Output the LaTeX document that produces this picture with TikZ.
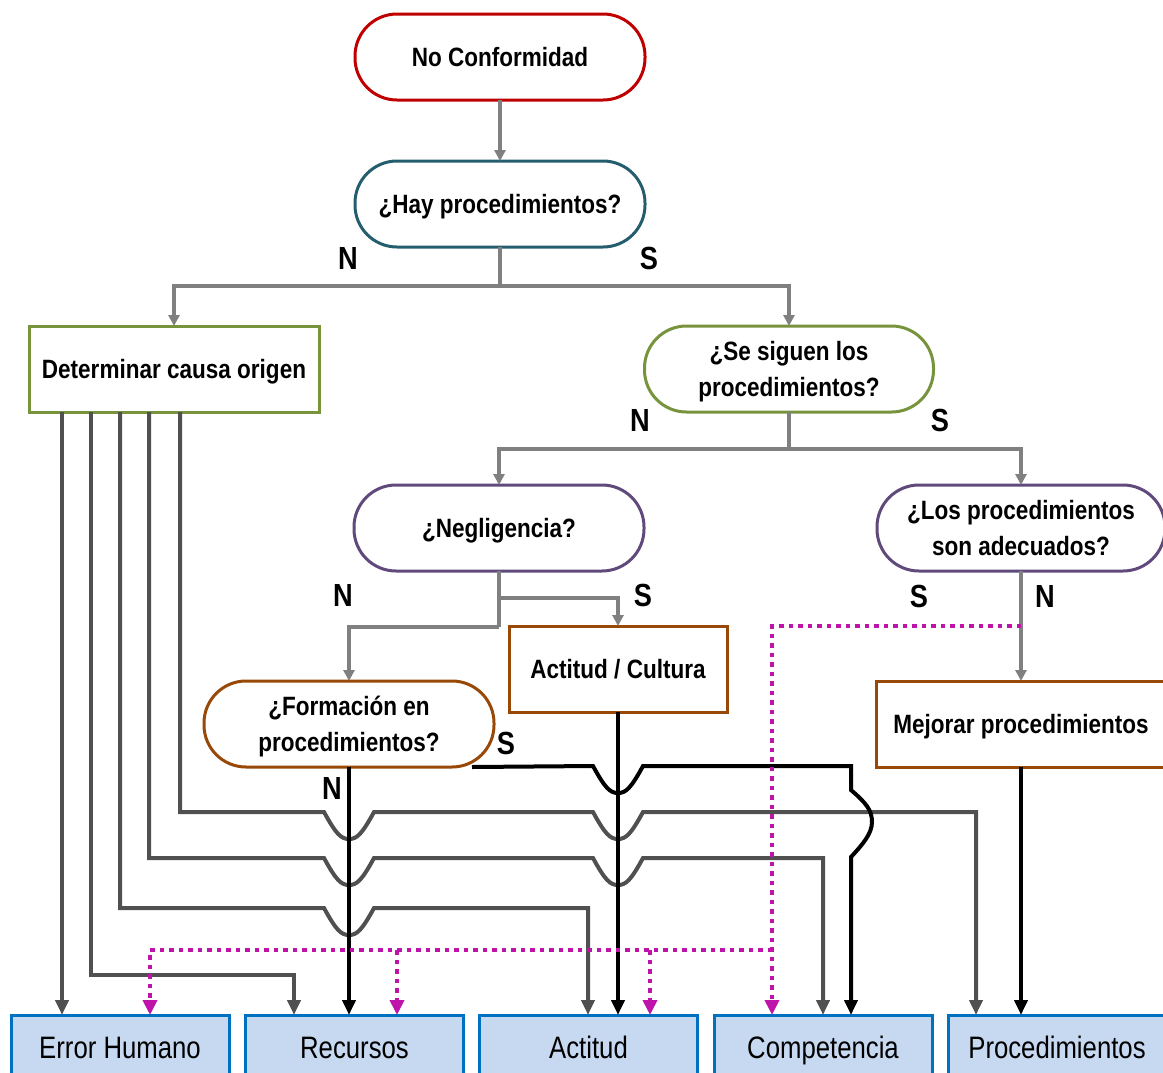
\documentclass[tikz,border=0pt]{standalone}
\usepackage{fontspec}
\newfontfamily\nf{Liberation Sans}[FakeStretch=0.85]
\newfontfamily\nfr{Liberation Sans}[FakeStretch=0.83]
\usetikzlibrary{arrows.meta,calc}
\definecolor{cred}{HTML}{C00000}
\definecolor{cteal}{HTML}{245E6E}
\definecolor{cgreen}{HTML}{77933C}
\definecolor{cpurple}{HTML}{604A7B}
\definecolor{cbrown}{HTML}{984807}
\definecolor{cblue}{HTML}{0070C0}
\definecolor{cfill}{HTML}{C6D9F1}
\definecolor{cgray}{HTML}{808080}
\definecolor{cdark}{HTML}{505050}
\definecolor{cmag}{RGB}{190,20,170}
\tikzset{
  txtb/.style={font=\nf\bfseries\fontsize{26.5}{36}\selectfont, align=center, text height=25pt, text depth=6pt},
  twoline/.style={text height=61pt, text depth=6pt},
  stad/.style={txtb, draw, line width=3pt, rounded corners=42pt, minimum width=290pt, minimum height=86pt, fill=white, outer sep=0pt, inner sep=0pt},
  rbox/.style={txtb, draw, line width=3pt, minimum width=290pt, minimum height=86pt, fill=white, outer sep=0pt, inner sep=0pt},
  outbox/.style={font=\nfr\fontsize{31}{36}\selectfont, text height=28pt, text depth=12pt, draw=cblue, fill=cfill, line width=3pt, minimum width=218pt, minimum height=70pt, outer sep=0pt, inner sep=0pt},
  lbl/.style={font=\nf\bfseries\fontsize{32}{36}\selectfont, inner sep=0pt},
  garrow/.style={draw=cgray, line width=3.2pt, -{Triangle[length=11pt,width=11pt]}},
  gline/.style={draw=cgray, line width=3.2pt},
  darrow/.style={draw=cdark, line width=4pt, -{Triangle[length=15pt,width=13pt]}},
  barrow/.style={draw=black, line width=4pt, -{Triangle[length=15pt,width=13pt]}},
  magline/.style={draw=cmag, line width=4.5pt, dash pattern=on 4.5pt off 5pt},
  magarrow/.style={magline, -{Triangle[length=15pt,width=14pt]}},
  hop/.style 2 args={insert path={-- ({#1-25},#2) .. controls ({#1-13},{#2+22}) and ({#1-8},{#2+27}) .. (#1,{#2+27}) .. controls ({#1+8},{#2+27}) and ({#1+13},{#2+22}) .. ({#1+25},#2)}}
}
\begin{document}
\begin{tikzpicture}[x=1pt,y=-1pt]
\path[use as bounding box] (0,0) rectangle (1163,1072);
% nodes
\node[stad, draw=cred] (nc) at (500,57) {No Conformidad};
\node[stad, draw=cteal] (hay) at (500,204) {¿Hay procedimientos?};
\node[rbox, draw=cgreen] (det) at (174,369) {Determinar causa origen};
\node[stad, twoline, draw=cgreen, minimum width=289pt] (seg) at (789,369) {¿Se siguen los\\procedimientos?};
\node[stad, draw=cpurple] (neg) at (499,528) {¿Negligencia?};
\node[stad, twoline, draw=cpurple, minimum width=288pt] (los) at (1021,528) {¿Los procedimientos\\son adecuados?};
\node[rbox, draw=cbrown, minimum width=218pt] (act) at (618,669) {Actitud / Cultura};
\node[stad, twoline, draw=cbrown] (form) at (349,724) {¿Formación en\\procedimientos?};
\node[rbox, draw=cbrown] (mej) at (1021,724) {Mejorar procedimientos};
\node[outbox] (eh) at (120,1050) {Error Humano};
\node[outbox] (rec) at (354.5,1050) {Recursos};
\node[outbox] (acti) at (588.5,1050) {Actitud};
\node[outbox] (comp) at (823,1050) {Competencia};
\node[outbox] (proc) at (1057,1050) {Procedimientos};
% labels
\node[lbl] (lN1) at (348,258) {N};
\node[lbl] (lS1) at (649,258) {S};
\node[lbl] (lN2) at (640,420) {N};
\node[lbl] (lS2) at (940,420) {S};
\node[lbl] (lN3) at (343,595) {N};
\node[lbl] (lS3) at (643,595) {S};
\node[lbl] (lS4) at (919,596) {S};
\node[lbl] (lN4) at (1045,596) {N};
\node[lbl] (lS5) at (506,743) {S};
\node[lbl] (lN5) at (332,788) {N};
% coordinates
\coordinate (j1) at (500,286);
\coordinate (j2) at (789,449);
\coordinate (j3) at (499,598);
\coordinate (j4) at (499,627);
\coordinate (d1) at (62,412);
\coordinate (d2) at (91,412);
\coordinate (d3) at (120,412);
\coordinate (d4) at (149,412);
\coordinate (d5) at (180,412);
\coordinate (x294) at (294,0);
\coordinate (x588) at (588,0);
\coordinate (x823) at (823,0);
\coordinate (x976) at (976,0);
\coordinate (x851) at (851,0);
\coordinate (m1) at (1021,626);
\coordinate (m2) at (772,950);
\coordinate (mE) at (150,950);
\coordinate (mR) at (397,950);
\coordinate (mA) at (650,950);
% gray connectors
\draw[garrow] (nc.south) -- (hay.north);
\draw[gline] (hay.south) -- (j1);
\draw[garrow] (j1) -| (det.north);
\draw[garrow] (j1) -| (seg.north);
\draw[gline] (seg.south) -- (j2);
\draw[garrow] (j2) -| (neg.north);
\draw[garrow] (j2) -| (los.north);
\draw[gline] (neg.south) -- (j4);
\draw[garrow] (j4) -| (form.north);
\draw[garrow] (j3) -| (act.north);
\draw[garrow] (los.south) -- (mej.north);
% dark gray connectors
\draw[darrow] (d1) -- (eh.north -| d1);
\draw[darrow] (d2) -- (91,975) -- (294,975) -- (rec.north -| x294);
\draw[darrow] (d3) -- (120,908) [hop={349}{908}] -- (588,908) -- (acti.north -| x588);
\draw[darrow] (d4) -- (149,858) [hop={349}{858}] [hop={618}{858}] -- (823,858) -- (comp.north -| x823);
\draw[darrow] (d5) -- (180,812) [hop={349}{812}] [hop={618}{812}] -- (976,812) -- (proc.north -| x976);
% black connectors
\draw[barrow] (form.south) -- (rec.north -| form.south);
\draw[barrow] (act.south) -- (acti.north -| act.south);
\draw[barrow] (mej.south) -- (proc.north -| mej.south);
\draw[barrow] ([xshift=123pt]form.south) [hop={618}{766}] -- (851,766) -- (851,790)
  .. controls (866,803) and (872,810) .. (872,822)
  .. controls (872,834) and (862,845) .. (851,857) -- (comp.north -| x851);
% magenta dotted
\draw[magarrow] (m1) -| (comp.north -| m2);
\draw[magarrow] (m2) -- (mE) -- (eh.north -| mE);
\draw[magarrow] (mR) -- (rec.north -| mR);
\draw[magarrow] (mA) -- (acti.north -| mA);
\end{tikzpicture}
\end{document}
